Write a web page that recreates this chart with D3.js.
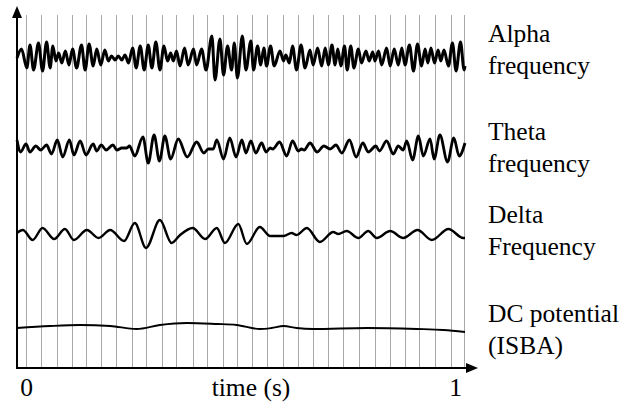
<!DOCTYPE html>
<html>
<head>
<meta charset="utf-8">
<script src="https://cdn.jsdelivr.net/npm/d3@7"></script>
<style>
  html, body { margin: 0; padding: 0; background: #fff; }
  svg { display: block; }
  text { font-family: "Liberation Serif", "Times New Roman", serif; font-size: 25.5px; fill: #000; }
</style>
</head>
<body>
<svg id="chart"></svg>
<script>
// time in ms, amplitude relative to the channel offset
const channelNames = [["Alpha", "frequency"], ["Theta", "frequency"], ["Delta", "Frequency"], ["DC potential", "(ISBA)"]];
const channelOffsets = [310, 220, 134, 40];
const tickValues = [0, 1000];
const tickLabels = ["0", "1"];
const axisLabel = "time (s)";
const gridTimes = [20, 53, 89, 122, 154, 187, 222, 257, 287, 323, 356, 392, 425, 459, 492,
  525, 559, 593, 628, 660, 695, 728, 763, 798, 833, 865, 898, 933, 968, 998];

const alpha = [[0,0],[10,9],[22,-10],[29,13],[37,-12],[48,15],[57,-13],[66,16],[74,-10],[80,12],[87,-3],[93,5],
  [100,-5],[108,7],[116,-7],[124,9],[133,-10],[144,13],[152,-12],[161,14],[170,-8],[178,9],[187,-7],[196,8],
  [204,-3],[211,2],[219,-2],[226,2],[234,-2],[241,3],[249,-5],[258,10],[266,-10],[275,12],[284,-12],[293,13],
  [301,-10],[310,16],[319,-12],[328,12],[336,-3],[343,5],[349,-3],[356,7],[364,-8],[374,10],[382,-7],[394,9],
  [401,-7],[412,9],[422,-12],[435,22],[442,-22],[453,19],[461,-17],[470,12],[479,-12],[485,15],[492,-20],
  [503,22],[511,-12],[522,17],[528,-12],[537,12],[544,-7],[551,10],[557,-8],[566,12],[574,-8],[587,7],[595,-3],
  [600,3],[608,-5],[615,12],[624,-12],[634,13],[643,-10],[654,8],[661,-7],[671,10],[680,-8],[688,10],[695,-7],
  [703,13],[710,-7],[716,9],[723,-8],[731,12],[737,-12],[745,12],[752,-10],[762,9],[769,-5],[779,7],[786,-3],
  [794,6],[799,-3],[807,7],[814,-7],[825,10],[833,-8],[842,9],[851,-7],[859,10],[866,-7],[876,13],[885,-13],
  [894,14],[903,-8],[911,9],[917,-5],[924,10],[932,-5],[940,8],[946,-3],[953,8],[963,-8],[972,15],[980,-13],
  [990,16],[998,-12],[1000,-8]];

const theta = [[0,8],[8,-4],[20,4],[29,-4],[42,2],[53,-2],[66,3],[77,-6],[90,8],[102,-9],[117,8],[127,-7],
  [141,7],[154,-7],[170,4],[178,-3],[188,3],[199,-2],[214,3],[223,-2],[234,0],[245,0],[251,2],[263,-8],
  [281,11],[293,-15],[306,13],[318,-13],[330,12],[343,-11],[360,9],[380,-9],[401,6],[417,-5],[427,-1],
  [438,-1],[446,8],[461,-11],[475,10],[489,-9],[502,8],[511,-5],[522,7],[533,-5],[546,5],[556,-4],[565,0],
  [571,-1],[586,6],[602,-8],[615,7],[628,-3],[635,-1],[641,-2],[654,5],[670,-4],[685,2],[699,-1],[712,3],
  [725,-5],[742,8],[757,-9],[772,5],[784,-4],[801,2],[809,-3],[825,7],[840,-6],[851,2],[862,-2],[870,7],
  [883,-12],[896,12],[907,-8],[922,9],[931,-11],[944,13],[961,-14],[975,10],[987,-8],[1000,5]];

const delta = [[0,1],[13,4],[35,-6],[57,6],[83,-5],[107,5],[127,-6],[156,4],[182,-4],[208,4],[239,-7],
  [263,11],[288,-14],[319,14],[345,-9],[364,-1],[392,6],[420,-5],[446,6],[464,-9],[494,10],[513,-10],
  [542,7],[565,-2],[595,-2],[613,1],[624,-1],[647,6],[676,-8],[706,2],[717,0],[736,3],[762,-4],[784,3],
  [803,-4],[833,3],[862,-4],[894,4],[926,-6],[963,5],[996,-4],[1000,-4]];

const dc = [[0,0],[74,2],[141,3],[208,2],[267,-1],[319,3],[379,5],[446,4],[490,3],[542,-1],[568,0],
  [595,2],[624,0],[661,-1],[781,0],[892,-1],[952,-2],[1000,-4]];

const series = [alpha, theta, delta, dc];
const strokeWidths = [3, 2.8, 2.4, 1.8];
const labelBaselines = [42, 140, 223, 322];

const width = 641, height = 406;
const margin = { top: 12, right: 176, bottom: 38, left: 17 };
const plotRight = 465;
const axisY = height - margin.bottom;

const svg = d3.select('#chart')
  .attr('width', width)
  .attr('height', height);

const x = d3.scaleLinear()
  .domain([0, 1000])
  .range([margin.left, plotRight]);

const y = d3.scaleLinear()
  .domain([0, 356])
  .range([axisY, margin.top]);

// vertical grid
svg.append('g')
  .selectAll('line')
  .data(gridTimes)
  .enter()
  .append('line')
  .attr('x1', d => Math.round(x(d)) + 0.5)
  .attr('x2', d => Math.round(x(d)) + 0.5)
  .attr('y1', 15)
  .attr('y2', axisY)
  .attr('stroke', '#a8a8a8')
  .attr('stroke-width', 1);

// traces
const line = d3.line()
  .curve(d3.curveMonotoneX);

svg.append('g')
  .selectAll('path')
  .data(series)
  .enter()
  .append('path')
  .attr('fill', 'none')
  .attr('stroke', '#000')
  .attr('stroke-linejoin', 'round')
  .attr('stroke-width', (d, i) => strokeWidths[i])
  .attr('d', (d, i) => line.x(p => x(p[0])).y(p => y(channelOffsets[i] + p[1]))(d));

// axes with arrows
svg.append('line')
  .attr('x1', margin.left).attr('x2', margin.left)
  .attr('y1', axisY + 1).attr('y2', 17)
  .attr('stroke', '#000').attr('stroke-width', 2);
svg.append('path')
  .attr('d', `M${margin.left},6L${margin.left - 5},18L${margin.left + 5},18Z`)
  .attr('fill', '#000');

svg.append('line')
  .attr('x1', margin.left - 1).attr('x2', plotRight + 2)
  .attr('y1', axisY).attr('y2', axisY)
  .attr('stroke', '#000').attr('stroke-width', 2);
svg.append('path')
  .attr('d', `M${plotRight + 13},${axisY}L${plotRight + 1},${axisY - 5}L${plotRight + 1},${axisY + 5}Z`)
  .attr('fill', '#000');

const xAxis = svg.append('g')
  .attr('transform', `translate(0,${axisY})`)
  .call(d3.axisBottom(x).tickValues(tickValues).tickSize(0).tickFormat((d, i) => tickLabels[i]));
xAxis.select('.domain').remove();
xAxis.selectAll('text')
  .attr('font-size', null)
  .attr('font-family', null)
  .attr('y', 28)
  .attr('dy', 0)
  .attr('dx', (d, i) => i === 0 ? 9 : -10);

svg.append('text')
  .attr('x', 251)
  .attr('y', axisY + 28)
  .attr('text-anchor', 'middle')
  .text(axisLabel);

// channel labels
const labels = svg.append('g')
  .selectAll('text')
  .data(channelNames)
  .enter()
  .append('text')
  .attr('x', 488)
  .attr('y', (d, i) => labelBaselines[i]);
labels.selectAll('tspan')
  .data(d => d)
  .enter()
  .append('tspan')
  .attr('x', 488)
  .attr('dy', (d, i) => i === 0 ? 0 : 32)
  .text(d => d);
</script>
</body>
</html>
